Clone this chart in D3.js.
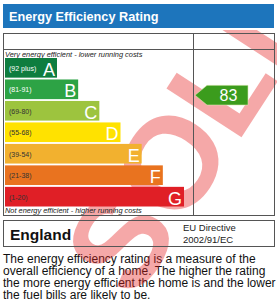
<!DOCTYPE html>
<html><head><meta charset="utf-8">
<script src="https://cdn.jsdelivr.net/npm/d3@7"></script>
<style>html,body{margin:0;padding:0;background:#fff;}svg{display:block;font-family:"Liberation Sans",Arial,sans-serif;}</style>
</head><body>
<script>
const bands = ["A","B","C","D","E","F","G"];
const ranges = ["(92 plus)","(81-91)","(69-80)","(55-68)","(39-54)","(21-38)","(1-20)"];
const lows = [92,81,69,55,39,21,1];
const highs = [100,91,80,68,54,38,20];
const colors = ["#0e7d3f","#2da345","#9dc43e","#ffe200","#f2b12f","#e9731f","#e01f26"];
const labelColors = ["#ffffff","#ffffff","#333333","#333333","#333333","#333333","#333333"];
const arrowColor = "#3b9c1d";
const currentRating = 83;
const paragraph = ["The energy efficiency rating is a measure of the",
  "overall efficiency of a home. The higher the rating",
  "the more energy efficient the home is and the lower",
  "the fuel bills are likely to be."];
const watermark = "SOLD";

const W = 277, H = 300;
const svg = d3.select("body").append("svg").attr("width", W).attr("height", H);

// header
svg.append("rect").attr("x",3).attr("y",4).attr("width",271).attr("height",24).attr("fill","#1d75bc");
svg.append("text").attr("x",9).attr("y",21).attr("fill","#fff").attr("font-weight","bold").attr("font-size",12.7).text("Energy Efficiency Rating");

// paragraph (under watermark)
svg.selectAll(".p").data(paragraph).enter().append("text").attr("x",3).attr("y",(d,i)=>262.5+i*12.3).attr("font-size",12).attr("fill","#111").text(d=>d);

// watermark
svg.append("clipPath").attr("id","wm").append("rect").attr("x",0).attr("y",30).attr("width",W).attr("height",H-30);
svg.append("g").attr("clip-path","url(#wm)")
  .append("text").attr("transform","translate(195,126) rotate(-57)").attr("text-anchor","middle").attr("dominant-baseline","central")
  .attr("font-size",130).attr("font-weight","bold").attr("fill","#e61e1e").attr("opacity",0.38).text(watermark);

// main frame
const g = svg.append("g");
g.append("rect").attr("x",3.5).attr("y",33.5).attr("width",271).attr("height",182).attr("fill","none").attr("stroke","#555");
g.append("line").attr("x1",3.5).attr("x2",274.5).attr("y1",49.5).attr("y2",49.5).attr("stroke","#555");
g.append("line").attr("x1",193.5).attr("x2",193.5).attr("y1",33.5).attr("y2",215.5).attr("stroke","#555");

g.append("text").attr("x",5).attr("y",57).attr("font-size",7.4).attr("font-style","italic").attr("fill","#222").text("Very energy efficient - lower running costs");
g.append("text").attr("x",5).attr("y",213).attr("font-size",7.4).attr("font-style","italic").attr("fill","#222").text("Not energy efficient - higher running costs");

const y = d3.scaleBand().domain(bands).range([58, 206.5]).paddingInner(0.085).paddingOuter(0);
const w = d3.scaleLinear().domain([0,6]).range([52,179]);
const x0 = 5;

const bar = g.selectAll(".bar").data(bands).enter().append("g");
bar.append("rect").attr("x",x0).attr("y",d=>y(d)).attr("width",(d,i)=>w(i)).attr("height",y.bandwidth()).attr("fill",(d,i)=>colors[i]);
bar.append("text").attr("x",x0+4).attr("y",d=>y(d)+y.bandwidth()/2+3).attr("font-size",7).attr("fill",(d,i)=>labelColors[i]).text((d,i)=>ranges[i]);
bar.append("text").attr("x",(d,i)=>x0+w(i)-2).attr("y",d=>y(d)+y.bandwidth()-2).attr("text-anchor","end").attr("font-size",18).attr("fill","#fff").text(d=>d);

// current rating arrow
const bi = lows.findIndex((l,i)=>currentRating>=l && currentRating<=highs[i]);
const ry = d3.scaleLinear().domain([highs[bi], lows[bi]]).range([y(bands[bi]), y(bands[bi])+y.bandwidth()]);
const cy = ry(currentRating);
const ah = y.bandwidth();
const ax = 195, aw = 53, tip = 12;
g.append("path").attr("d",`M${ax},${cy} L${ax+tip},${cy-ah/2} L${ax+aw},${cy-ah/2} L${ax+aw},${cy+ah/2} L${ax+tip},${cy+ah/2} Z`).attr("fill",arrowColor).attr("stroke","#d8e8b0").attr("stroke-width",0.6);
g.append("text").attr("x",ax+tip+(aw-tip)/2+1).attr("y",cy+6).attr("text-anchor","middle").attr("font-size",16).attr("fill","#fff").text(currentRating);

// England box
g.append("rect").attr("x",3.5).attr("y",220.5).attr("width",271).attr("height",26).attr("fill","none").attr("stroke","#555");
g.append("text").attr("x",10).attr("y",240).attr("font-size",15.5).attr("font-weight","bold").attr("fill","#111").text("England");
g.append("text").attr("x",183).attr("y",231).attr("font-size",9.5).attr("fill","#222").text("EU Directive");
g.append("text").attr("x",183).attr("y",243).attr("font-size",9.5).attr("fill","#222").text("2002/91/EC");
</script>
</body></html>
